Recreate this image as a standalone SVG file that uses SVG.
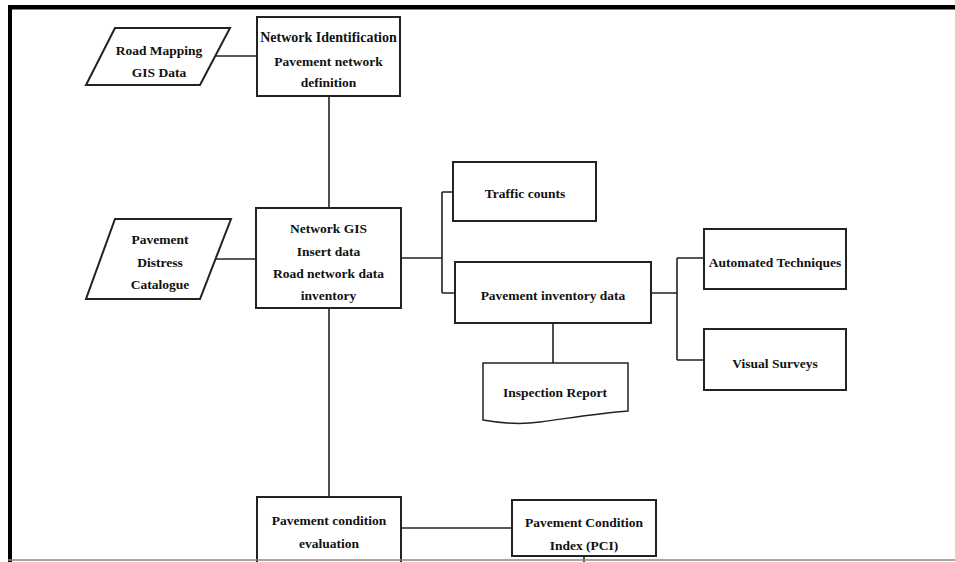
<svg xmlns="http://www.w3.org/2000/svg" width="955" height="562" viewBox="0 0 955 562">
<style>
.bx{fill:#fff;stroke:#222;stroke-width:2}
.cn{fill:none;stroke:#222;stroke-width:1.6}
.t{font-family:"Liberation Serif","Times New Roman",serif;font-weight:bold;font-size:13.5px;fill:#111;text-anchor:middle}
</style>
<rect x="0" y="0" width="955" height="562" fill="#fff"/>
<g id="frame">
<rect x="8" y="5" width="947" height="4.5" fill="#000"/>
<rect x="8" y="5" width="4" height="557" fill="#000"/>
</g>
<g id="connectors">
<path class="cn" d="M215,56H257"/>
<path class="cn" d="M329,96V208"/>
<path class="cn" d="M215,259H256"/>
<path class="cn" d="M329,308V497"/>
<path class="cn" d="M401,258H442M442,192V293M442,192H453M442,293H455"/>
<path class="cn" d="M651,293H677M677,258V360M677,258H704M677,360H704"/>
<path class="cn" d="M553,323V363"/>
<path class="cn" d="M401,528H512"/>
<path class="cn" d="M584,556V562"/>
</g>
<g id="road-mapping">
<polygon class="bx" points="115,28 230,28 200,85 86,85"/>
<text class="t" x="159" y="55">Road Mapping</text>
<text class="t" x="159" y="77">GIS Data</text>
</g>
<g id="network-identification">
<rect class="bx" x="257" y="17" width="143" height="79"/>
<text class="t" x="328.5" y="42" style="font-size:14px">Network Identification</text>
<text class="t" x="328.5" y="66">Pavement network</text>
<text class="t" x="328.5" y="87">definition</text>
</g>
<g id="pavement-distress">
<polygon class="bx" points="115,219 231,219 200,299 86,299"/>
<text class="t" x="160" y="244">Pavement</text>
<text class="t" x="160" y="267">Distress</text>
<text class="t" x="160" y="289">Catalogue</text>
</g>
<g id="network-gis">
<rect class="bx" x="256" y="208" width="145" height="100"/>
<text class="t" x="328.5" y="233">Network GIS</text>
<text class="t" x="328.5" y="256">Insert data</text>
<text class="t" x="328.5" y="278">Road network data</text>
<text class="t" x="328.5" y="300">inventory</text>
</g>
<g id="traffic-counts">
<rect class="bx" x="453" y="162" width="143" height="59"/>
<text class="t" x="525" y="198">Traffic counts</text>
</g>
<g id="pavement-inventory">
<rect class="bx" x="455" y="262" width="196" height="61"/>
<text class="t" x="553" y="300">Pavement inventory data</text>
</g>
<g id="automated-techniques">
<rect class="bx" x="704" y="229" width="142" height="60"/>
<text class="t" x="775" y="267">Automated Techniques</text>
</g>
<g id="visual-surveys">
<rect class="bx" x="704" y="329" width="142" height="61"/>
<text class="t" x="775" y="368">Visual Surveys</text>
</g>
<g id="inspection-report">
<path class="bx" style="stroke-width:1.5" d="M483,363H628V411C600,413 570,418 540,422C525,424 505,424 483,420Z"/>
<text class="t" x="555" y="397">Inspection Report</text>
</g>
<g id="pavement-condition-evaluation">
<rect class="bx" x="257" y="497" width="144" height="70"/>
<text class="t" x="329" y="525">Pavement condition</text>
<text class="t" x="329" y="548">evaluation</text>
</g>
<g id="pci">
<rect class="bx" x="512" y="500" width="144" height="56"/>
<text class="t" x="584" y="527">Pavement Condition</text>
<text class="t" x="584" y="550">Index (PCI)</text>
</g>
<g id="frame-bottom">
<line x1="8" y1="560" x2="955" y2="560" stroke="#888" stroke-width="1.5"/>
</g>
</svg>
